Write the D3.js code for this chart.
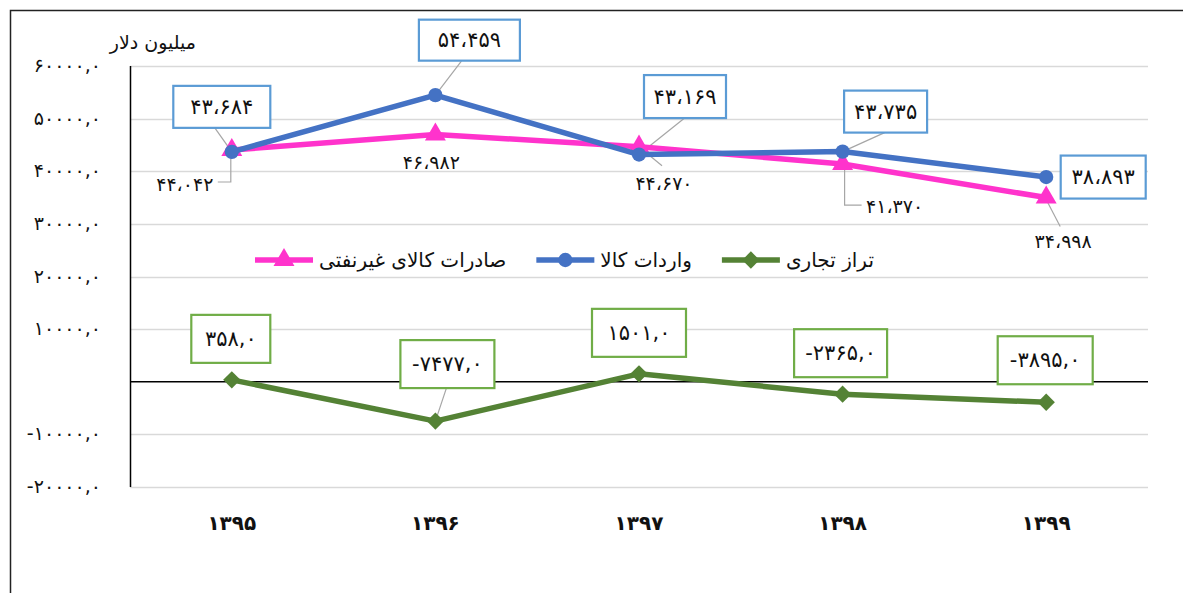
<!DOCTYPE html>
<html>
<head>
<meta charset="utf-8">
<script src="https://cdn.jsdelivr.net/npm/d3@7/dist/d3.min.js"></script>
<style>
  body { margin: 0; background: #fff; }
  svg { display: block; font-family: "DejaVu Sans", sans-serif; }
</style>
</head>
<body>
<svg id="chart" width="1183" height="593"></svg>
<script>
// data
const years = ["1395", "1396", "1397", "1398", "1399"];
const imports = [43684, 54459, 43169, 43735, 38893];   // واردات کالا
const exportsNonOil = [44042, 46982, 44670, 41370, 34998]; // صادرات کالای غیرنفتی
const balance = [358, -7477, 1501, -2365, -3895];      // تراز تجاری
const yTicks = [-20000, -10000, 0, 10000, 20000, 30000, 40000, 50000, 60000];

const C_PINK = "#ff33cc", C_BLUE = "#4472c4", C_GREEN = "#548235";
const C_BLUE_BOX = "#5b9bd5", C_GREEN_BOX = "#70ad47", C_LEADER = "#a6a6a6";

const fa = s => String(s).replace(/\d/g, d => "۰۱۲۳۴۵۶۷۸۹"[d]);
const fmtThousands = v => fa(d3.format(",")(v)).replace(/,/g, "،");
const fmtDec = v => fa(v.toFixed(0)) + ",۰";

const svg = d3.select("#chart");

// outer frame (only top/left visible in the crop)
svg.append("path").attr("d", "M10.5,593 V10.5 H1183")
  .attr("fill", "none").attr("stroke", "#222").attr("stroke-width", 1.5);

const x = d3.scalePoint().domain(years).range([130, 1148]).padding(0.5);
const y = d3.scaleLinear().domain([-20000, 60000]).range([487, 66]);

// grid
svg.append("g").selectAll("line").data(yTicks.filter(t => t !== 0)).join("line")
  .attr("x1", 130).attr("x2", 1148)
  .attr("y1", d => Math.round(y(d)) + 0.5).attr("y2", d => Math.round(y(d)) + 0.5)
  .attr("stroke", "#d9d9d9").attr("stroke-width", 1.5);

// y tick labels (the zero label is left blank in the original)
svg.append("g").selectAll("text").data(yTicks.filter(t => t !== 0)).join("text")
  .attr("x", 101).attr("y", d => y(d) + 6)
  .attr("text-anchor", "end").attr("font-size", 19).attr("letter-spacing", 1.5)
  .attr("fill", "#111")
  .text(d => fmtDec(d));

svg.append("text").attr("x", 196).attr("y", 49).attr("text-anchor", "end")
  .attr("font-size", 19).attr("fill", "#111").text("میلیون دلار");

// zero line + y axis
svg.append("line").attr("x1", 130).attr("x2", 1148)
  .attr("y1", y(0)).attr("y2", y(0)).attr("stroke", "#000").attr("stroke-width", 1.5);
svg.append("line").attr("x1", 130.5).attr("x2", 130.5)
  .attr("y1", y(60000)).attr("y2", y(-20000)).attr("stroke", "#000").attr("stroke-width", 1.5);

// x labels
svg.append("g").selectAll("text").data(years).join("text")
  .attr("x", d => x(d)).attr("y", 530).attr("text-anchor", "middle")
  .attr("font-size", 20).attr("font-weight", "bold").attr("fill", "#111")
  .text(d => fa(d));

const series = [
  { vals: exportsNonOil, color: C_PINK, sym: d3.symbolTriangle, size: 190, rot: 0 },
  { vals: imports, color: C_BLUE, sym: d3.symbolCircle, size: 160, rot: 0 },
  { vals: balance, color: C_GREEN, sym: d3.symbolSquare, size: 150, rot: 45 },
];

const line = d3.line().x((d, i) => x(years[i])).y(d => y(d));

// leader lines (drawn under the marks)
const leaders = svg.append("g").attr("stroke", C_LEADER).attr("stroke-width", 1.2).attr("fill", "none");

series.forEach(s => {
  svg.append("path").datum(s.vals).attr("d", line)
    .attr("fill", "none").attr("stroke", s.color).attr("stroke-width", 5.5)
    .attr("stroke-linejoin", "round");
  svg.append("g").selectAll("path").data(s.vals).join("path")
    .attr("d", d3.symbol(s.sym, s.size))
    .attr("transform", (d, i) => `translate(${x(years[i])},${y(d)}) rotate(${s.rot})`)
    .attr("fill", s.color);
});

// --- data labels ---
const labels = svg.append("g");

function boxLabel(px, py, dx, dy, txt, stroke, w, h) {
  const cx = px + dx, cy = py + dy;
  labels.append("rect").attr("x", cx - w / 2).attr("y", cy - h / 2)
    .attr("width", w).attr("height", h)
    .attr("fill", "#fff").attr("stroke", stroke).attr("stroke-width", 2.2);
  labels.append("text").attr("x", cx).attr("y", cy + 7).attr("text-anchor", "middle")
    .attr("font-size", 21).attr("fill", "#111").text(txt);
}

// imports: box offsets from the point, box sizes
const impOff = [[-10, -45, 97, 42], [34, -55, 101, 41], [46, -58, 82, 43], [43, -40, 83, 42], [57, 0, 85, 43]];
const impLead = [[-17, -24], [26, -34], [45, -36], [42, -19], null];
imports.forEach((v, i) => {
  const px = x(years[i]), py = y(v), o = impOff[i];
  if (impLead[i]) leaders.append("line").attr("x1", px).attr("y1", py)
    .attr("x2", px + impLead[i][0]).attr("y2", py + impLead[i][1]);
  boxLabel(px, py, o[0], o[1], fmtThousands(v), C_BLUE_BOX, o[2], o[3]);
});

// exports: plain text labels
const expOff = [[-47, 34], [-4, 27], [25, 36], [52, 42], [17, 43]];
exportsNonOil.forEach((v, i) => {
  const px = x(years[i]), py = y(v), o = expOff[i];
  labels.append("text").attr("x", px + o[0]).attr("y", py + o[1] + 7)
    .attr("text-anchor", "middle").attr("font-size", 19).attr("fill", "#111")
    .text(fmtThousands(v));
});
{
  // elbow / straight leaders for export labels
  const p0 = [x(years[0]), y(exportsNonOil[0])];
  leaders.append("path").attr("d", `M${p0[0] - 14},${p0[1] + 32} H${p0[0] - 1} V${p0[1]}`);
  const p2 = [x(years[2]), y(exportsNonOil[2])];
  leaders.append("line").attr("x1", p2[0]).attr("y1", p2[1]).attr("x2", p2[0] + 23).attr("y2", p2[1] + 19);
  const p3 = [x(years[3]), y(exportsNonOil[3])];
  leaders.append("path").attr("d", `M${p3[0] + 19},${p3[1] + 41} H${p3[0] + 2} V${p3[1]}`);
  const p4 = [x(years[4]), y(exportsNonOil[4])];
  leaders.append("line").attr("x1", p4[0] + 1).attr("y1", p4[1] + 4).attr("x2", p4[0] + 14).attr("y2", p4[1] + 29);
}

// trade balance boxes
const balOff = [[-1, -41, 79], [12, -57, 94], [0, -41, 94], [-2, -41, 93], [-1, -42, 95]];
balance.forEach((v, i) => {
  const px = x(years[i]), py = y(v), o = balOff[i];
  if (i === 1) leaders.append("line").attr("x1", px).attr("y1", py)
    .attr("x2", px + 11).attr("y2", py - 33);
  boxLabel(px, py, o[0], o[1], fmtDec(v), C_GREEN_BOX, o[2], 48);
});

// --- legend ---
const legendItems = [
  { name: "صادرات کالای غیرنفتی", s: series[0] },
  { name: "واردات کالا", s: series[1] },
  { name: "تراز تجاری", s: series[2] },
];
const leg = svg.append("g");
let lx = 255;
const ly = 260;
legendItems.forEach(it => {
  const g = leg.append("g");
  g.append("line").attr("x1", lx).attr("x2", lx + 58).attr("y1", ly).attr("y2", ly)
    .attr("stroke", it.s.color).attr("stroke-width", 5.5);
  g.append("path").attr("d", d3.symbol(it.s.sym, it.s.size))
    .attr("transform", `translate(${lx + 29},${ly}) rotate(${it.s.rot})`)
    .attr("fill", it.s.color);
  const t = g.append("text").attr("x", lx + 64).attr("y", ly + 7)
    .attr("font-size", 20).attr("fill", "#111").text(it.name);
  lx += 64 + t.node().getComputedTextLength() + 30;
});
</script>
</body>
</html>
